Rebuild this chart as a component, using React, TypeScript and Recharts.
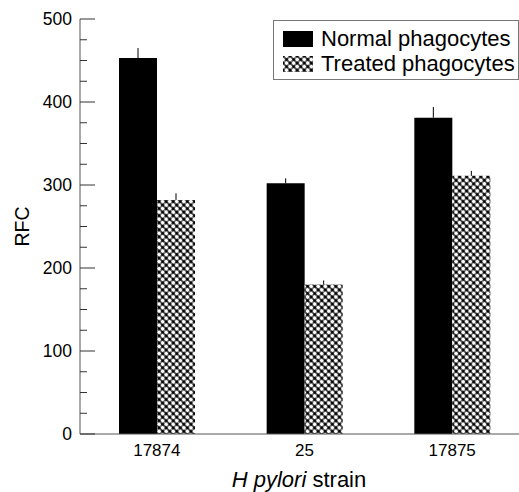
import React from "react"
import {
  BarChart,
  Bar,
  XAxis,
  YAxis,
  ErrorBar,
  Legend,
} from "recharts"

// values
const strains = ["17874", "25", "17875"]
const normalRfc = [453, 302, 381]
const treatedRfc = [282, 180, 311]
const normalErr = [12, 6, 13]
const treatedErr = [8, 5, 6]
const yTicks = [0, 25, 50, 75, 100, 125, 150, 175, 200, 225, 250, 275, 300, 325, 350, 375, 400, 425, 450, 475, 500]

const seriesNames = ["Normal phagocytes", "Treated phagocytes"]

const data = strains.map((s, i) => ({
  strain: s,
  normal: normalRfc[i],
  treated: treatedRfc[i],
  normalErr: [0, normalErr[i]],
  treatedErr: [0, treatedErr[i]],
}))

const FONT = "'Liberation Sans', Arial, sans-serif"
const Y_WIDTH = 80

function YTick(props: any) {
  const { y, payload } = props
  const v = payload.value
  const major = v % 100 === 0
  return (
    <g>
      <line
        x1={Y_WIDTH}
        x2={Y_WIDTH + (major ? 15 : 7)}
        y1={y}
        y2={y}
        stroke="#333"
        strokeWidth={1}
      />
      {major && (
        <text
          x={Y_WIDTH - 8}
          y={y}
          dy="0.36em"
          textAnchor="end"
          fontSize={17.5}
          fill="#000"
        >
          {v}
        </text>
      )}
    </g>
  )
}

function Swatch({ hatched }: { hatched: boolean }) {
  return (
    <svg width={30} height={16} style={{ display: "block" }}>
      <rect
        width={30}
        height={16}
        fill={hatched ? "url(#crossHatch)" : "#000"}
      />
    </svg>
  )
}

function renderLegend() {
  return (
    <div
      style={{
        border: "1px solid #777",
        padding: "5px 0 5px 9px",
        fontFamily: FONT,
        fontSize: 22,
        lineHeight: "25px",
        boxSizing: "border-box",
        width: 246,
        height: 60,
        background: "#fff",
        color: "#000",
      }}
    >
      {seriesNames.map((n, i) => (
        <div
          key={n}
          style={{ display: "flex", alignItems: "center", gap: 8 }}
        >
          <Swatch hatched={i === 1} />
          <span>{n}</span>
        </div>
      ))}
    </div>
  )
}

export default function App() {
  return (
    <div
      style={{
        position: "absolute",
        left: 0,
        top: 0,
        width: 519,
        height: 492,
        overflow: "hidden",
        background: "#fff",
        fontFamily: FONT,
      }}
    >
      <BarChart
        width={530}
        height={492}
        data={data}
        margin={{ top: 19, right: 4, bottom: 0, left: 0 }}
        barSize={38}
        barGap={0}
        style={{ fontFamily: FONT }}
      >
        <defs>
          <pattern
            id="crossHatch"
            width={5}
            height={5}
            patternUnits="userSpaceOnUse"
            patternTransform="rotate(45)"
          >
            <rect width={5} height={5} fill="#000" />
            <circle cx={2.5} cy={2.5} r={2.1} fill="#fff" />
          </pattern>
        </defs>

        <XAxis
          dataKey="strain"
          height={58}
          padding={{ left: 3, right: 0 }}
          axisLine={{ stroke: "#555" }}
          tickLine={false}
          tickMargin={4}
          tick={{ fontSize: 17, fill: "#000" }}
          label={{
            content: (p: any) => {
              const vb = p.viewBox
              return (
                <text
                  x={vb.x + vb.width / 2 - 4}
                  y={487}
                  textAnchor="middle"
                  fontSize={22}
                  fill="#000"
                >
                  <tspan fontStyle="italic">H pylori</tspan> strain
                </text>
              )
            },
          }}
        />

        <YAxis
          width={Y_WIDTH}
          domain={[0, 500]}
          ticks={yTicks}
          interval={0}
          axisLine={{ stroke: "#555" }}
          tickLine={false}
          tick={<YTick />}
          label={{
            content: (p: any) => {
              const vb = p.viewBox
              const cx = 22
              const cy = vb.y + vb.height / 2
              return (
                <text
                  x={cx}
                  y={cy}
                  transform={`rotate(-90, ${cx}, ${cy})`}
                  textAnchor="middle"
                  dominantBaseline="central"
                  fontSize={19.5}
                  fill="#000"
                >
                  RFC
                </text>
              )
            },
          }}
        />

        <Legend
          content={renderLegend}
          layout="horizontal"
          verticalAlign="middle"
          align="center"
          wrapperStyle={{ position: "absolute", left: 273, top: 20, width: 246 }}
        />

        <Bar
          dataKey="normal"
          name={seriesNames[0]}
          fill="#000"
          isAnimationActive={false}
        >
          <ErrorBar
            dataKey="normalErr"
            width={0}
            stroke="#000"
            strokeWidth={1}
            isAnimationActive={false}
          />
        </Bar>

        <Bar
          dataKey="treated"
          name={seriesNames[1]}
          fill="url(#crossHatch)"
          isAnimationActive={false}
        >
          <ErrorBar
            dataKey="treatedErr"
            width={0}
            stroke="#000"
            strokeWidth={1}
            isAnimationActive={false}
          />
        </Bar>
      </BarChart>
    </div>
  )
}
